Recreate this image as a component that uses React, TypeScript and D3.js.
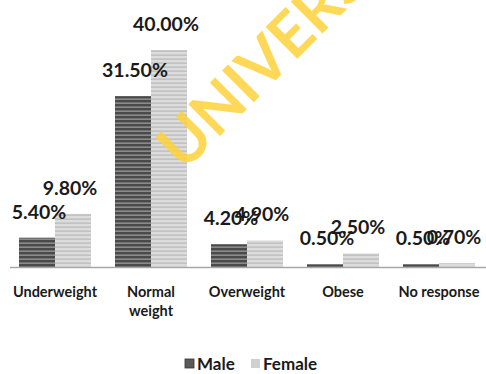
import React from "react";
import * as d3 from "d3";

const categories = [["Underweight"], ["Normal", "weight"], ["Overweight"], ["Obese"], ["No response"]];
const categoryKeys = ["Underweight", "Normal weight", "Overweight", "Obese", "No response"];
const maleValues = [5.4, 31.5, 4.2, 0.5, 0.5];
const femaleValues = [9.8, 40.0, 4.9, 2.5, 0.7];
const seriesNames = ["Male", "Female"];

const W = 486;
const H = 374;
const baseY = 267;
const FONT = "Lato, 'Open Sans', sans-serif";

export default function App() {
  const x = d3.scaleBand<string>().domain(categoryKeys).range([7, 487]).paddingInner(0.25).paddingOuter(0.125);
  const xs = d3.scaleBand<string>().domain(seriesNames).range([0, x.bandwidth()]);
  const y = d3.scaleLinear().domain([0, 40]).range([baseY, 50]);
  const series = [maleValues, femaleValues];
  const fills = ["url(#maleP)", "url(#femaleP)"];

  return (
    <svg width={W} height={H} style={{ position: "absolute", left: 0, top: 0, background: "#fff" }}>
      <defs>
        <pattern id="maleP" width="6" height="4" patternUnits="userSpaceOnUse">
          <rect width="6" height="4" fill="#4a4a4a" />
          <rect y="2.5" width="6" height="1.3" fill="#9a9a9a" />
        </pattern>
        <pattern id="femaleP" width="6" height="4" patternUnits="userSpaceOnUse">
          <rect width="6" height="4" fill="#dcdcdc" />
          <rect y="2.5" width="6" height="1.2" fill="#b8b8b8" />
        </pattern>
      </defs>
      <line x1={10} x2={486} y1={baseY + 0.5} y2={baseY + 0.5} stroke="#a8a8a8" strokeWidth={1.5} />
      {categoryKeys.map((c, i) => (
        <g key={c}>
          {series.map((vals, s) => {
            const bx = (x(c) as number) + (xs(seriesNames[s]) as number);
            const top = y(vals[i]);
            return <rect key={s} x={bx} y={top} width={xs.bandwidth()} height={baseY - top} fill={fills[s]} />;
          })}
        </g>
      ))}
      <text
        x={0}
        y={0}
        transform="translate(184,172) rotate(-45)"
        fontFamily={FONT}
        fontWeight="bold"
        fontSize={62}
        fill="#ffd23a"
        opacity={0.85}
      >
        UNIVERSITY
      </text>
      {categoryKeys.map((c, i) => (
        <g key={c}>
          {series.map((vals, s) => {
            const bx = (x(c) as number) + (xs(seriesNames[s]) as number);
            const top = y(vals[i]);
            return (
              <text
                key={s}
                x={bx + xs.bandwidth() / 2 + (s === 0 ? 2 : -3)}
                y={top - 19}
                textAnchor="middle"
                fontFamily={FONT}
                fontWeight="bold"
                fontSize={19.5}
                fill="#1a1a1a"
              >
                {vals[i].toFixed(2)}%
              </text>
            );
          })}
          <text
            x={(x(c) as number) + x.bandwidth() / 2}
            y={297}
            textAnchor="middle"
            fontFamily={FONT}
            fontWeight="bold"
            fontSize={14.5}
            fill="#1a1a1a"
          >
            {categories[i].map((l, k) => (
              <tspan key={k} x={(x(c) as number) + x.bandwidth() / 2} dy={k === 0 ? 0 : 19}>
                {l}
              </tspan>
            ))}
          </text>
        </g>
      ))}
      <g fontFamily={FONT} fontWeight="bold" fontSize={17} fill="#1a1a1a">
        <rect x={185} y={359} width={9} height={9} fill="#5a5a5a" stroke="#333" strokeWidth={0.8} />
        <text x={197} y={370}>Male</text>
        <rect x={251} y={359} width={9} height={9} fill="#d0d0d0" />
        <text x={263} y={370}>Female</text>
      </g>
    </svg>
  );
}
